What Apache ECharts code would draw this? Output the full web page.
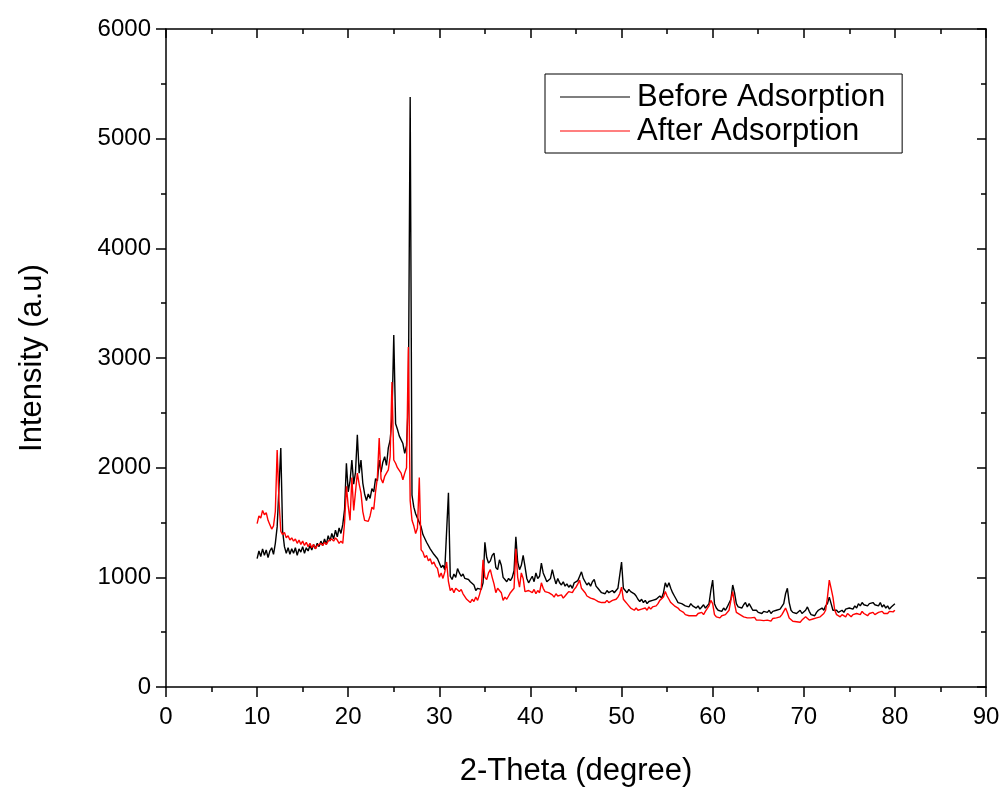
<!DOCTYPE html>
<html>
<head>
<meta charset="utf-8">
<script src="https://cdn.jsdelivr.net/npm/echarts@6/dist/echarts.min.js"></script>
<style>
html,body{margin:0;padding:0;background:#fff;}
#chart{width:1005px;height:787px;}
</style>
</head>
<body>
<div id="chart"></div>
<script>
// Sampling grid of 2-Theta (degree): start and step
const thetaStart = 10.0;
const thetaStep = 0.2;

const seriesNames = ['Before Adsorption', 'After Adsorption'];

// Intensity (a.u), one value per 0.2 deg from 10.0 to 80.0
const beforeIntensity = [
  1170,1240,1190,1260,1200,1250,1180,1240,1270,1210,
  1310,1460,1820,2180,1420,1280,1220,1270,1210,1260,
  1220,1270,1200,1260,1230,1280,1220,1270,1240,1290,
  1250,1300,1260,1310,1280,1330,1290,1350,1300,1380,
  1330,1400,1350,1430,1370,1450,1400,1480,1620,2040,
  1780,1880,2070,1850,1960,2300,1950,2070,1860,1760,
  1700,1760,1720,1810,1780,1900,1880,2070,1960,2050,
  2100,2020,2180,2250,2450,3210,2400,2350,2290,2280,
  2220,2130,2200,2600,5380,1750,1640,1580,1540,1500,
  1460,1390,1380,1320,1310,1260,1260,1210,1210,1170,
  1130,1090,1110,1070,1060,1770,1010,980,1030,1000,
  1080,1040,1010,1030,990,1000,980,960,950,930,
  880,900,910,890,950,1320,1180,1130,1150,1200,
  1220,1090,1070,1160,1110,1000,980,960,990,970,
  1000,1060,1370,1140,1070,1110,1200,1100,990,950,
  980,1010,960,1040,990,1010,1130,1040,1000,960,
  950,990,1070,1000,940,990,950,930,960,920,
  940,910,930,900,950,940,970,1010,1050,990,
  960,930,950,920,960,980,920,900,880,860,
  870,850,880,860,850,880,860,870,900,890,
  1140,900,880,860,890,870,880,850,830,800,
  780,800,770,790,760,780,770,790,780,800,
  800,830,810,860,950,910,950,900,860,830,
  800,770,780,760,770,740,750,730,760,740,
  730,720,740,710,730,750,720,740,760,880,
  975,760,720,700,710,690,720,700,730,720,
  800,930,860,760,730,740,720,750,770,730,
  760,730,700,690,700,680,690,670,690,680,
  680,700,670,690,680,700,690,710,720,760,
  850,900,770,700,680,690,670,680,700,670,
  680,700,730,690,660,670,650,680,700,690,
  720,700,740,760,820,760,700,690,700,680,
  690,700,680,710,700,720,730,710,740,720,
  760,740,770,750,760,740,760,750,770,750,
  760,740,770,730,750,720,740,710,730,720,
  760
];

const afterIntensity = [
  1490,1560,1540,1610,1570,1590,1520,1480,1440,1470,
  1600,2160,1700,1420,1390,1410,1360,1380,1340,1360,
  1330,1350,1310,1340,1300,1330,1290,1320,1280,1310,
  1270,1300,1260,1290,1280,1310,1290,1320,1300,1330,
  1320,1350,1330,1360,1340,1310,1330,1310,1500,1830,
  1650,1520,1910,1610,1780,1950,1850,1770,1600,1520,
  1530,1510,1560,1640,1620,1780,1910,2270,1900,1860,
  1920,1950,1980,2100,2780,2070,2040,2000,2010,1950,
  1890,1950,2000,3100,1700,1520,1470,1400,1450,1910,
  1250,1230,1180,1200,1150,1170,1120,1140,1100,1080,
  1000,1040,990,1050,1140,960,880,900,860,900,
  910,870,890,850,860,800,790,770,800,780,
  820,790,840,900,1160,1000,980,1040,1070,1000,
  940,860,900,910,860,790,820,800,830,860,
  860,900,1260,1000,910,1040,990,870,860,880,
  880,860,890,850,880,860,950,900,870,860,
  860,870,840,820,850,830,820,840,810,830,
  850,870,880,860,890,910,940,975,900,880,
  860,830,840,810,820,800,810,780,790,770,
  780,770,790,770,780,790,780,800,820,850,
  910,800,780,760,740,720,710,700,720,700,
  690,710,700,720,700,730,710,730,720,740,
  760,790,780,820,870,830,800,770,760,740,
  730,720,700,690,680,660,670,650,660,650,
  660,650,670,655,680,660,690,700,740,790,
  760,660,640,650,630,650,640,660,650,700,
  790,870,760,680,670,660,650,640,650,630,
  640,630,620,635,610,625,610,620,605,615,
  610,620,600,625,615,630,620,640,660,690,
  720,680,630,620,600,610,595,605,590,610,
  620,640,630,610,600,620,610,630,620,640,
  655,670,700,820,975,900,820,700,660,650,
  640,660,650,640,670,655,640,660,650,670,
  675,660,690,670,660,650,670,655,680,660,
  670,680,665,690,670,680,670,690,680,685,
  700
];

const xTicks = [0,10,20,30,40,50,60,70,80,90];
const yTicks = [0,1000,2000,3000,4000,5000,6000];

function toPairs(arr){
  return arr.map((v,i)=>[+(thetaStart + i*thetaStep).toFixed(2), v]);
}

const FONT = 'Liberation Sans, Arial, sans-serif';
const chart = echarts.init(document.getElementById('chart'), null, {renderer:'canvas'});

const axisLineStyle = {show:true, onZero:false, lineStyle:{color:'#000', width:1.5}};
const tickStyle = {color:'#000', width:1.5};

chart.setOption({
  animation:false,
  backgroundColor:'#fff',
  grid:{left:166, right:19, top:29, bottom:100, containLabel:false, outerBoundsMode:'none'},
  legend:{
    data:seriesNames.map(n=>({name:n, icon:'rect'})),
    orient:'vertical',
    left:545, top:74,
    borderColor:'#000', borderWidth:1,
    padding:[6,17,5,15],
    itemWidth:70, itemHeight:1.2, itemGap:0,
    textStyle:{fontFamily:FONT, fontSize:31, color:'#000', padding:[0,0,0,2], lineHeight:34},
    backgroundColor:'#fff'
  },
  xAxis:[{
    type:'value', min:xTicks[0], max:xTicks[xTicks.length-1], interval:10,
    position:'bottom',
    axisLine:axisLineStyle,
    axisTick:{show:true, inside:false, length:10, lineStyle:tickStyle},
    minorTick:{show:true, splitNumber:2, length:5, lineStyle:tickStyle},
    splitLine:{show:false},
    axisLabel:{fontFamily:FONT, fontSize:24, color:'#000', margin:18, formatter:v=>String(v)},
    name:'2-Theta (degree)', nameLocation:'middle', nameGap:69,
    nameTextStyle:{fontFamily:FONT, fontSize:31, color:'#000'}
  },{
    type:'value', min:xTicks[0], max:xTicks[xTicks.length-1], interval:10,
    position:'top',
    axisLine:axisLineStyle,
    axisTick:{show:true, inside:true, length:9, lineStyle:tickStyle},
    minorTick:{show:true, splitNumber:2, length:5, lineStyle:tickStyle},
    splitLine:{show:false},
    axisLabel:{show:false}
  }],
  yAxis:[{
    type:'value', min:yTicks[0], max:yTicks[yTicks.length-1], interval:1000,
    position:'left',
    axisLine:axisLineStyle,
    axisTick:{show:true, inside:false, length:10, lineStyle:tickStyle},
    minorTick:{show:true, splitNumber:2, length:5, lineStyle:tickStyle},
    splitLine:{show:false},
    axisLabel:{fontFamily:FONT, fontSize:24, color:'#000', margin:15, formatter:v=>String(v)},
    name:'Intensity (a.u)', nameLocation:'middle', nameGap:118, nameRotate:90,
    nameTextStyle:{fontFamily:FONT, fontSize:31, color:'#000'}
  },{
    type:'value', min:yTicks[0], max:yTicks[yTicks.length-1], interval:1000,
    position:'right',
    axisLine:axisLineStyle,
    axisTick:{show:true, inside:true, length:9, lineStyle:tickStyle},
    minorTick:{show:true, splitNumber:2, length:5, lineStyle:tickStyle},
    splitLine:{show:false},
    axisLabel:{show:false}
  }],
  series:[{
    name:seriesNames[0], type:'line', xAxisIndex:0, yAxisIndex:0,
    data:toPairs(beforeIntensity), symbol:'none', showSymbol:false,
    lineStyle:{color:'#000', width:1.4}, itemStyle:{color:'#000'}, z:2
  },{
    name:seriesNames[1], type:'line', xAxisIndex:0, yAxisIndex:0,
    data:toPairs(afterIntensity), symbol:'none', showSymbol:false,
    lineStyle:{color:'#ff0000', width:1.4}, itemStyle:{color:'#ff0000'}, z:3
  }]
});
</script>
</body>
</html>
